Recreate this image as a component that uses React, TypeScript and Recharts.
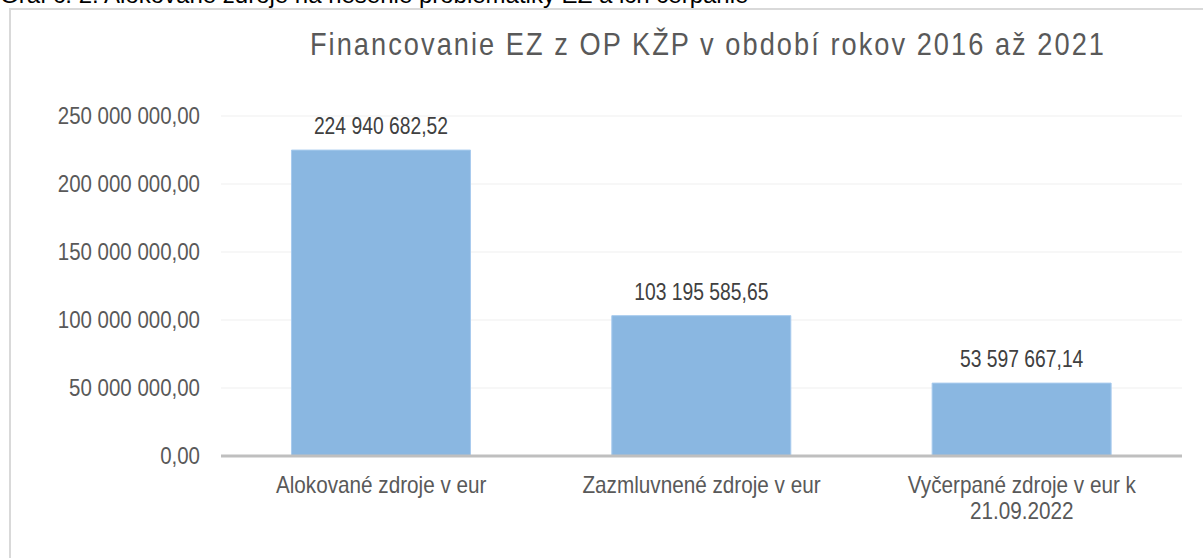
import React from "react";
import { BarChart, Bar, XAxis, YAxis, CartesianGrid, LabelList } from "recharts";

const categories = [
  "Alokované zdroje v eur",
  "Zazmluvnené zdroje v eur",
  "Vyčerpané zdroje v eur k 21.09.2022",
];
const values = [224940682.52, 103195585.65, 53597667.14];
const yTicks = [0, 50000000, 100000000, 150000000, 200000000, 250000000];
const chartTitle = "Financovanie EZ z OP KŽP v období rokov 2016 až 2021";
const caption = "Graf č. 2: Alokované zdroje na riešenie problematiky EZ a ich čerpanie";

const data = categories.map((name, i) => ({ name, value: values[i] }));

const FONT = "'Liberation Sans', Arial, sans-serif";

const fmt = (v: number) => {
  const fixed = v.toFixed(2);
  const [intPart, dec] = fixed.split(".");
  const grouped = intPart.replace(/\B(?=(\d{3})+(?!\d))/g, " ");
  return `${grouped},${dec}`;
};

const XTick = (props: any) => {
  const { x, y, payload } = props;
  const words = String(payload.value).split(" ");
  const lines: string[] = [];
  let cur = "";
  const maxChars = 24;
  for (const w of words) {
    const t = cur ? cur + " " + w : w;
    if (t.length > maxChars && cur) {
      lines.push(cur);
      cur = w;
    } else cur = t;
  }
  if (cur) lines.push(cur);
  return (
    <text
      transform={`translate(${x},${y}) scale(0.9,1)`}
      x={0}
      y={0}
      textAnchor="middle"
      fill="#595959"
      fontSize={23}
      fontFamily={FONT}
    >
      {lines.map((l, i) => (
        <tspan key={i} x={0} dy={i === 0 ? "0.71em" : 26}>
          {l}
        </tspan>
      ))}
    </text>
  );
};

const YTick = (props: any) => {
  const { x, y, payload } = props;
  return (
    <text
      transform={`translate(${x},${y}) scale(0.89,1)`}
      x={0}
      y={0}
      dy="0.355em"
      textAnchor="end"
      fill="#595959"
      fontSize={23}
      fontFamily={FONT}
    >
      {fmt(Number(payload.value))}
    </text>
  );
};

const ValueLabel = (props: any) => {
  const { x, y, width, value } = props;
  const cx = Number(x) + Number(width) / 2;
  const by = Number(y) - 16;
  return (
    <text
      transform={`translate(${cx},${by}) scale(0.84,1)`}
      x={0}
      y={0}
      textAnchor="middle"
      fill="#404040"
      fontSize={23}
      fontFamily={FONT}
    >
      {fmt(Number(value))}
    </text>
  );
};

export default function App() {
  return (
    <div
      style={{
        position: "fixed",
        left: 0,
        top: 0,
        width: 1203,
        height: 558,
        overflow: "hidden",
        background: "#ffffff",
      }}
    >
      <div
        style={{
          position: "absolute",
          left: 0,
          top: -17,
          fontFamily: FONT,
          fontSize: 24,
          color: "#000",
          whiteSpace: "nowrap",
          lineHeight: "24px",
        }}
      >
        {caption}
      </div>
      <div
        style={{
          position: "absolute",
          left: 9,
          top: 8,
          width: 1300,
          height: 700,
          borderLeft: "2px solid #d9d9d9",
          borderTop: "2px solid #d9d9d9",
        }}
      />
      <div
        style={{
          position: "absolute",
          left: 0,
          top: 24,
          width: 1416,
          textAlign: "center",
          fontFamily: FONT,
          fontSize: 32,
          color: "#595959",
          letterSpacing: 2.4,
          whiteSpace: "nowrap",
          lineHeight: "40px",
          transform: "scaleX(0.85)",
          transformOrigin: "708px 0",
        }}
      >
        {chartTitle}
      </div>
      <div style={{ position: "absolute", left: 0, top: 0 }}>
        <BarChart
          width={1203}
          height={558}
          data={data}
          margin={{ top: 116, right: 21, bottom: 42, left: 0 }}
          barCategoryGap="22%"
        >
          <CartesianGrid vertical={false} stroke="#efefef" strokeWidth={1} />
          <XAxis
            dataKey="name"
            axisLine={{ stroke: "#bfbfbf", strokeWidth: 3 }}
            tickLine={false}
            tickSize={0}
            tickMargin={21}
            height={60}
            interval={0}
            tick={<XTick />}
          />
          <YAxis
            domain={[0, 250000000]}
            ticks={yTicks}
            axisLine={false}
            tickLine={false}
            tickSize={0}
            tickMargin={21}
            width={221}
            tick={<YTick />}
          />
          <Bar dataKey="value" fill="#8ab7e1" stroke="#a8cbee" strokeWidth={1} isAnimationActive={false}>
            <LabelList dataKey="value" position="top" content={<ValueLabel />} />
          </Bar>
        </BarChart>
      </div>
    </div>
  );
}
